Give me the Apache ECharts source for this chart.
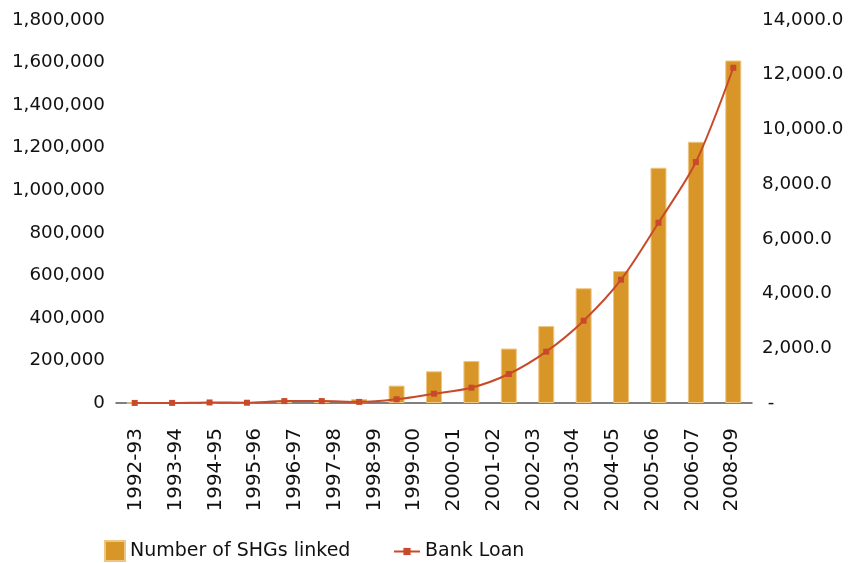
<!DOCTYPE html>
<html>
<head>
<meta charset="utf-8">
<script src="https://cdn.jsdelivr.net/npm/echarts@6/dist/echarts.min.js"></script>
<style>
  html, body { margin: 0; padding: 0; background: #ffffff; }
  #chart { width: 852px; height: 563px; }
</style>
</head>
<body>
<div id="chart"></div>
<script>
// Financial years (one bar and one line point each)
const years = ['1992-93','1993-94','1994-95','1995-96','1996-97','1997-98','1998-99',
  '1999-00','2000-01','2001-02','2002-03','2003-04','2004-05','2005-06','2006-07',
  '2007-08','2008-09'];

// Labels printed under the axis
const tickLabels = ['1992-93','1993-94','1994-95','1995-96','1996-97','1997-98','1998-99',
  '1999-00','2000-01','2001-02','2002-03','2003-04','2004-05','2005-06','2006-07','2008-09'];

// Number of SHGs linked (left axis)
const shgLinked = [255, 365, 1502, 2635, 3841, 5719, 18678, 81780, 149050, 197653,
  255882, 361731, 539365, 620109, 1105749, 1227770, 1609586];

// Bank loan (right axis)
const bankLoan = [3, 4, 20, 10, 70, 70, 40, 136, 340, 560, 1060, 1876, 3008, 4507,
  6590, 8808, 12254];

const leftTicks = { min: 0, max: 1800000, interval: 200000 };
const rightTicks = { min: 0, max: 14000, interval: 2000 };

const FONT = 'DejaVu Sans';
const TEXT = '#111111';

const chart = echarts.init(document.getElementById('chart'), null, { renderer: 'canvas' });

chart.setOption({
  animation: false,
  backgroundColor: '#ffffff',
  textStyle: { fontFamily: FONT, color: TEXT },
  grid: { left: 116, right: 100, top: 20, bottom: 160, containLabel: false },
  legend: [
    {
      data: ['Number of SHGs linked'],
      left: 104, top: 540, padding: 0,
      itemWidth: 20, itemHeight: 20,
      icon: 'rect',
      textStyle: { fontFamily: FONT, fontSize: 19, color: TEXT }
    },
    {
      data: ['Bank Loan'],
      left: 393, top: 542, padding: 0,
      itemWidth: 26, itemHeight: 9,
      lineStyle: { width: 2 },
      textStyle: { fontFamily: FONT, fontSize: 19, color: TEXT }
    }
  ],
  xAxis: [
    {
      type: 'category',
      data: years,
      boundaryGap: true,
      axisLine: { show: true, lineStyle: { color: '#555555', width: 1.5 } },
      axisTick: { show: false },
      axisLabel: { show: false },
      splitLine: { show: false }
    },
    {
      type: 'category',
      data: tickLabels,
      position: 'bottom',
      boundaryGap: true,
      axisLine: { show: false },
      axisTick: { show: false },
      splitLine: { show: false },
      axisLabel: {
        rotate: 90,
        margin: 25,
        interval: 0,
        fontFamily: FONT,
        fontSize: 20,
        color: TEXT
      }
    }
  ],
  yAxis: [
    {
      type: 'value',
      position: 'left',
      min: leftTicks.min, max: leftTicks.max, interval: leftTicks.interval,
      axisLine: { show: false },
      axisTick: { show: false },
      splitLine: { show: false },
      axisLabel: {
        margin: 11,
        fontFamily: FONT,
        fontSize: 18.3,
        color: TEXT,
        formatter: v => v.toLocaleString('en-US')
      }
    },
    {
      type: 'value',
      position: 'right',
      min: rightTicks.min, max: rightTicks.max, interval: rightTicks.interval,
      axisLine: { show: false },
      axisTick: { show: false },
      splitLine: { show: false },
      axisLabel: {
        margin: 10,
        fontFamily: FONT,
        fontSize: 18.3,
        color: TEXT,
        formatter: v => v === 0 ? ' -' :
          v.toLocaleString('en-US', { minimumFractionDigits: 1, maximumFractionDigits: 1 })
      }
    }
  ],
  series: [
    {
      name: 'Number of SHGs linked',
      type: 'bar',
      xAxisIndex: 0,
      yAxisIndex: 0,
      data: shgLinked,
      barWidth: 16,
      itemStyle: { color: '#D99628', borderColor: '#EDC683', borderWidth: 1 }
    },
    {
      name: 'Bank Loan',
      type: 'line',
      xAxisIndex: 0,
      yAxisIndex: 1,
      data: bankLoan,
      smooth: 0.3,
      symbol: 'rect',
      symbolSize: 6,
      showAllSymbol: true,
      lineStyle: { color: '#C84A2A', width: 2 },
      itemStyle: { color: '#C84A2A' },
      z: 5
    }
  ]
});
</script>
</body>
</html>
